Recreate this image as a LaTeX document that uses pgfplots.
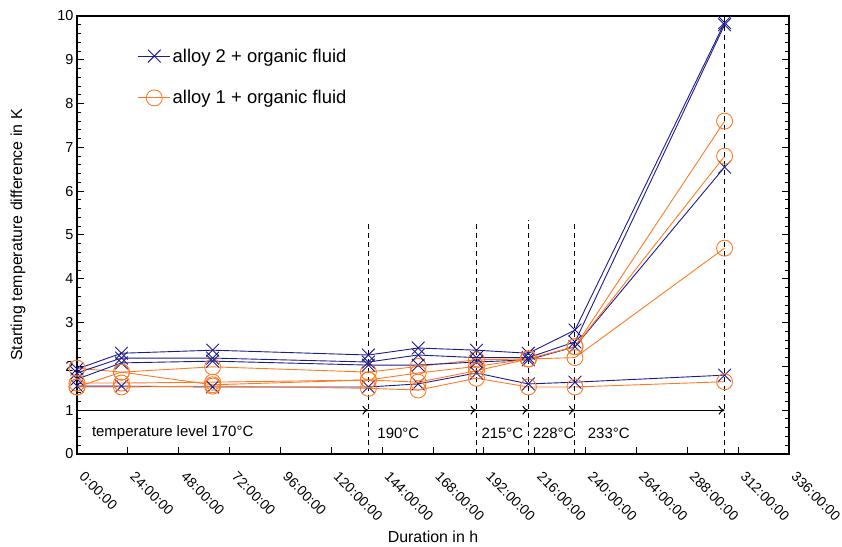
\documentclass[border=0pt]{standalone}
\usepackage{fontspec}
\setmainfont{Liberation Sans}
\usepackage{pgfplots}
\pgfplotsset{compat=1.18}
\usetikzlibrary{arrows.meta}
\definecolor{alloytwo}{RGB}{28,28,140}
\definecolor{alloyone}{RGB}{255,122,34}

\pgfplotsset{
  blu/.style={alloytwo, line width=0.9bp, mark=x, mark size=9bp, mark options={solid}},
  ora/.style={alloyone, line width=0.9bp, mark=o, mark size=8bp, mark options={solid}},
}

\begin{document}
\begin{tikzpicture}
\begin{axis}[
  scale only axis, width=712bp, height=438bp,
  xmin=0, xmax=336, ymin=0, ymax=10,
  xtick={0,24,...,336},
  xticklabels={0:00:00,24:00:00,48:00:00,72:00:00,96:00:00,120:00:00,144:00:00,168:00:00,192:00:00,216:00:00,240:00:00,264:00:00,288:00:00,312:00:00,336:00:00},
  ytick={0,1,...,10},
  minor y tick num=4,
  xtick pos=bottom, ytick pos=both,
  tick align=inside,
  major tick length=7bp, minor tick length=4bp,
  tick style={black, line width=1bp},
  axis line style={line width=1.6bp},
  /pgf/number format/assume math mode=true,
  yticklabel style={font=\fontsize{14.5}{17}\selectfont},
  xticklabel style={font=\fontsize{14}{17}\selectfont, xshift=8.5bp, yshift=-12bp, rotate=-45, anchor=north west},
  xlabel={Duration in h},
  ylabel={Starting temperature difference in K},
  label style={font=\fontsize{16}{19}\selectfont},
  xlabel style={at={(axis description cs:0.5,0)}, anchor=center, yshift=-83bp},
  ylabel style={at={(axis description cs:-0.083,0.5)}, anchor=center},
  legend style={at={(axis description cs:0.081,0.935)}, anchor=north west,
    draw=none, fill=none, font=\fontsize{18.5}{22}\selectfont, row sep=23bp},
  legend cell align=left,
  legend image code/.code={\draw[mark repeat=2,mark phase=2] plot coordinates {(0bp,0bp) (16bp,0bp) (32bp,0bp)};},
]
% alloy 2
\addplot[blu] coordinates {(0,1.94) (21,2.30) (64,2.37) (137.5,2.26) (161,2.42) (188.5,2.37) (213,2.30) (235,2.83) (305.6,9.85)};
\addlegendentry{alloy 2 + organic fluid}
% alloy 1
\addplot[ora] coordinates {(0,1.96) (21,1.87) (64,1.99) (137.5,1.87) (161,2.00) (188.5,2.15) (213,2.17) (235,2.45) (305.6,7.60)};
\addlegendentry{alloy 1 + organic fluid}

\addplot[blu, forget plot] coordinates {(0,1.85) (21,2.19) (64,2.19) (137.5,2.10) (161,2.26) (188.5,2.20) (213,2.20) (235,2.56) (305.6,9.80)};
\addplot[blu, forget plot] coordinates {(0,1.71) (21,2.08) (64,2.12) (137.5,2.03) (161,2.03) (188.5,2.10) (213,2.15) (235,2.45) (305.6,6.55)};
\addplot[blu, forget plot] coordinates {(0,1.55) (21,1.55) (64,1.53) (137.5,1.53) (161,1.60) (188.5,1.85) (213,1.60) (235,1.64) (305.6,1.80)};

\addplot[ora, forget plot] coordinates {(0,1.62) (21,1.62) (64,1.64) (137.5,1.69) (161,1.85) (188.5,2.00) (213,2.17) (235,2.45) (305.6,6.80)};
\addplot[ora, forget plot] coordinates {(0,1.53) (21,1.87) (64,1.58) (137.5,1.69) (161,1.64) (188.5,1.90) (213,2.17) (235,2.20) (305.6,4.70)};
\addplot[ora, forget plot] coordinates {(0,1.53) (21,1.53) (64,1.55) (137.5,1.50) (161,1.46) (188.5,1.73) (213,1.53) (235,1.53) (305.6,1.65)};

% temperature levels
\draw[line width=1bp, dash pattern=on 5bp off 4bp] (axis cs:137.5,0) -- (axis cs:137.5,5.3);
\draw[line width=1bp, dash pattern=on 5bp off 4bp] (axis cs:188.5,0) -- (axis cs:188.5,5.3);
\draw[line width=1bp, dash pattern=on 5bp off 4bp] (axis cs:213,0) -- (axis cs:213,5.35);
\draw[line width=1bp, dash pattern=on 5bp off 4bp] (axis cs:235,0) -- (axis cs:235,5.3);
\draw[line width=1bp, dash pattern=on 5bp off 4bp] (axis cs:305.6,0) -- (axis cs:305.6,10);
\draw[line width=1bp, -{To[length=6bp,width=9bp]}] (axis cs:0,1) -- (axis cs:137.5,1);
\draw[line width=1bp, -{To[length=6bp,width=9bp]}] (axis cs:137.5,1) -- (axis cs:188.5,1);
\draw[line width=1bp, -{To[length=6bp,width=9bp]}] (axis cs:188.5,1) -- (axis cs:213,1);
\draw[line width=1bp, -{To[length=6bp,width=9bp]}] (axis cs:213,1) -- (axis cs:235,1);
\draw[line width=1bp, -{To[length=6bp,width=9bp]}] (axis cs:235,1) -- (axis cs:305.6,1);
\begin{scope}[every node/.style={anchor=west, inner sep=0pt, font=\fontsize{15}{18}\selectfont}]
\node at (axis cs:7,0.48) {temperature level 170°C};
\node at (axis cs:141.7,0.48) {190°C};
\node at (axis cs:190.8,0.48) {215°C};
\node at (axis cs:215,0.48) {228°C};
\node at (axis cs:241,0.48) {233°C};
\end{scope}
\coordinate (sw) at (rel axis cs:0,0);
\coordinate (ne) at (rel axis cs:1,1);
\end{axis}
\pgfresetboundingbox
\path ([shift={(-77bp,-93bp)}]sw) rectangle ([shift={(53bp,16bp)}]ne);
\end{tikzpicture}
\end{document}
